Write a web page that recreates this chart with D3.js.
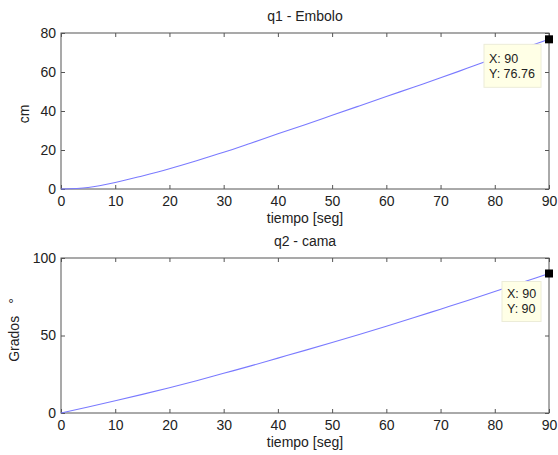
<!DOCTYPE html>
<html>
<head>
<meta charset="utf-8">
<script src="https://cdn.jsdelivr.net/npm/d3@7"></script>
<style>
  body { margin: 0; background: #fff; }
  svg text { font-family: "Liberation Sans", Arial, sans-serif; fill: #222; }
</style>
</head>
<body>
<svg id="chart" width="558" height="455"></svg>
<script>
// Time samples [s]
const tiempo = [0, 5, 10, 15, 20, 25, 30, 35, 40, 45, 50, 55, 60, 65, 70, 75, 80, 85, 90];
// q1 - piston displacement [cm]
const q1 = [0, 0.8, 3.3, 6.7, 10.4, 14.5, 18.8, 23.5, 28.3, 33.0, 37.8, 42.6, 47.4, 52.2, 57.0, 62.0, 67.0, 71.9, 76.76];
// q2 - bed angle [deg]
const q2 = [0, 3.9, 7.9, 12.0, 16.3, 20.8, 25.6, 30.4, 35.4, 40.4, 45.5, 50.7, 56.0, 61.4, 67.0, 72.6, 78.4, 84.2, 90];

const xTicks = [0, 10, 20, 30, 40, 50, 60, 70, 80, 90];
const q1Ticks = [0, 20, 40, 60, 80];
const q2Ticks = [0, 50, 100];

const panels = [
  { title: "q1 - Embolo", ylabel: ["cm"], values: q1, ymax: 80, yticks: q1Ticks,
    top: 33, bottom: 189, ylabX: 29, ylabY: 114,
    tip: ["X: 90", "Y: 76.76"], tipW: 57, tipH: 43, tipDx: -65, tipDy: 5, tipTy: 19 },
  { title: "q2 - cama", ylabel: ["Grados", "°"], values: q2, ymax: 100, yticks: q2Ticks,
    top: 258, bottom: 413, ylabX: 19, ylabY: 330,
    tip: ["X: 90", "Y: 90"], tipW: 39, tipH: 40, tipDx: -47, tipDy: 8, tipTy: 16 }
];

const svg = d3.select("#chart");
const left = 61, right = 549;
const axisColor = "#555";
const tickLen = 4;
const fontSize = 14;

panels.forEach(p => {
  const x = d3.scaleLinear().domain([0, 90]).range([left, right]);
  const y = d3.scaleLinear().domain([0, p.ymax]).range([p.bottom, p.top]);
  const g = svg.append("g");

  // plot box
  g.append("rect").attr("x", left).attr("y", p.top)
    .attr("width", right - left).attr("height", p.bottom - p.top)
    .attr("fill", "#fff").attr("stroke", axisColor).attr("stroke-width", 1);

  // bottom axis with inward ticks
  const xb = g.append("g").attr("transform", `translate(0,${p.bottom})`)
    .call(d3.axisBottom(x).tickValues(xTicks).tickSizeInner(-tickLen).tickSizeOuter(0).tickPadding(7));
  // top axis ticks (no labels)
  const xt = g.append("g").attr("transform", `translate(0,${p.top})`)
    .call(d3.axisTop(x).tickValues(xTicks).tickSizeInner(-tickLen).tickSizeOuter(0).tickFormat(""));
  // left axis
  const yl = g.append("g").attr("transform", `translate(${left},0)`)
    .call(d3.axisLeft(y).tickValues(p.yticks).tickSizeInner(-tickLen).tickSizeOuter(0).tickPadding(5));
  // right axis ticks
  const yr = g.append("g").attr("transform", `translate(${right},0)`)
    .call(d3.axisRight(y).tickValues(p.yticks).tickSizeInner(-tickLen).tickSizeOuter(0).tickFormat(""));

  [xb, xt, yl, yr].forEach(a => {
    a.select(".domain").remove();
    a.selectAll("line").attr("stroke", axisColor);
    a.selectAll("text").attr("font-size", fontSize).attr("fill", "#222")
      .attr("font-family", "'Liberation Sans', Arial, sans-serif");
  });
  xb.selectAll("text").attr("dy", "0.71em");

  // data line
  const line = d3.line().x((d, i) => x(tiempo[i])).y(d => y(d)).curve(d3.curveMonotoneX);
  g.append("path").datum(p.values).attr("d", line)
    .attr("fill", "none").attr("stroke", "#7a7aff").attr("stroke-width", 1.1);

  // titles and labels
  g.append("text").attr("x", (left + right) / 2).attr("y", p.top - 12)
    .attr("text-anchor", "middle").attr("font-size", fontSize).text(p.title);
  g.append("text").attr("x", (left + right) / 2).attr("y", p.bottom + 34)
    .attr("text-anchor", "middle").attr("font-size", fontSize).text("tiempo [seg]");
  const yt = g.append("text")
    .attr("transform", `translate(${p.ylabX},${p.ylabY}) rotate(-90)`)
    .attr("text-anchor", "middle").attr("font-size", fontSize);
  p.ylabel.forEach((s, i) => {
    yt.append("tspan").attr("dx", i ? 12 : 0).text(s);
  });

  // data tip at last point
  const lastX = tiempo[tiempo.length - 1];
  const lastY = p.values[p.values.length - 1];
  const px = x(lastX), py = y(lastY);
  const tipX = px + p.tipDx, tipY = py + p.tipDy;
  g.append("rect").attr("x", tipX).attr("y", tipY)
    .attr("width", p.tipW).attr("height", p.tipH)
    .attr("fill", "#ffffe6").attr("stroke", "#ececd8").attr("stroke-width", 1);
  p.tip.forEach((t, i) => {
    g.append("text").attr("x", tipX + 5).attr("y", tipY + p.tipTy + i * 15)
      .attr("font-size", 12.5).text(t);
  });
  g.append("rect").attr("x", px - 4).attr("y", py - 4)
    .attr("width", 8).attr("height", 8).attr("fill", "#000");
});
</script>
</body>
</html>
